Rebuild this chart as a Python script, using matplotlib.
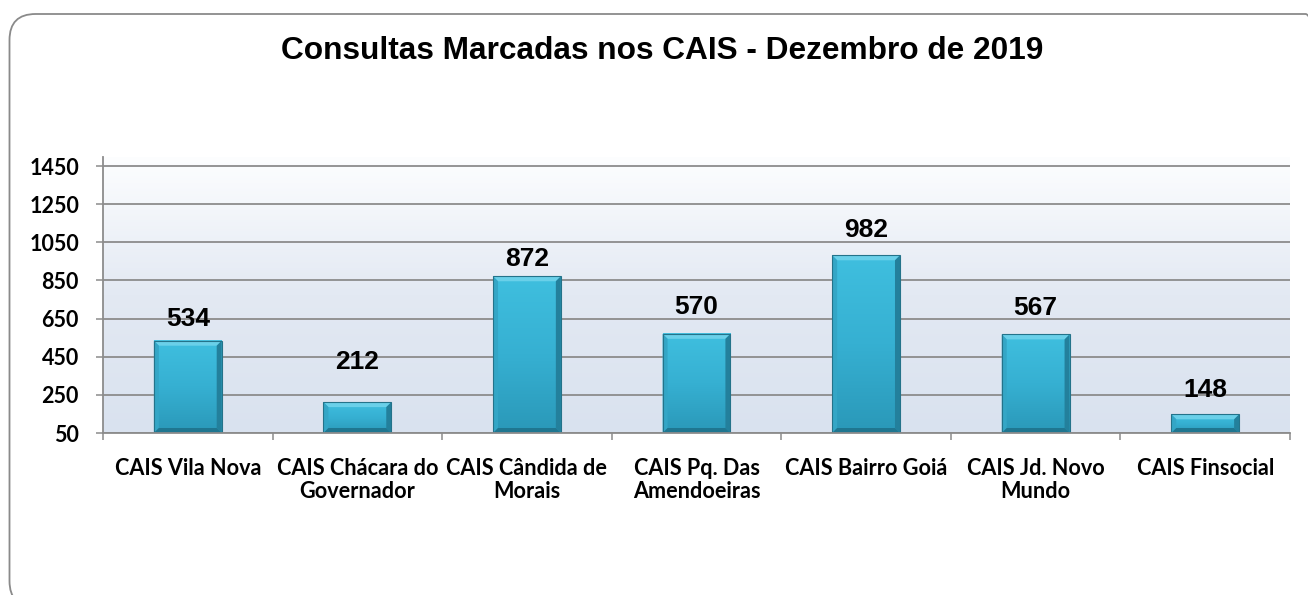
import numpy as np
import matplotlib
matplotlib.use("Agg")
import matplotlib.pyplot as plt
from matplotlib.patches import FancyBboxPatch, Polygon
from matplotlib.transforms import IdentityTransform
from matplotlib.colors import LinearSegmentedColormap

# ---------------- data ----------------
title = "Consultas Marcadas nos CAIS - Dezembro de 2019"
categories = ["CAIS Vila Nova", "CAIS Chácara do\nGovernador", "CAIS Cândida de\nMorais",
              "CAIS Pq. Das\nAmendoeiras", "CAIS Bairro Goiá", "CAIS Jd. Novo\nMundo",
              "CAIS Finsocial"]
values = [534, 212, 872, 570, 982, 567, 148]
y_ticks = [50, 250, 450, 650, 850, 1050, 1250, 1450]
y_limits = (50, 1500)
# extra vertical offset (in pixels) of each value label above its bar
label_offsets_px = [22, 40, 17, 27, 25, 26, 24]

W, H, DPI = 1308, 595, 100
fig = plt.figure(figsize=(W / DPI, H / DPI), dpi=DPI)
fig.patch.set_facecolor("white")

# outer rounded frame (extends past right/bottom edge like the reference)
frame = FancyBboxPatch((9.5, -12), 1322, 593,
                       boxstyle="round,pad=0,rounding_size=26",
                       transform=IdentityTransform(), facecolor="none",
                       edgecolor="#8a8a8a", linewidth=1.3, zorder=0)
fig.patches.append(frame)

fig.text(662 / W, 1 - 51 / H, title, ha="center", va="center",
         family="Liberation Sans", fontweight="bold", fontsize=22.8, color="black")

ax_left, ax_right, ax_top, ax_bottom = 103, 1290, 156.5, 433
ax = fig.add_axes([ax_left / W, 1 - ax_bottom / H, (ax_right - ax_left) / W,
                   (ax_bottom - ax_top) / H])
ax.set_facecolor("none")

# plot area gradient background
bg = LinearSegmentedColormap.from_list("bg", ["#d9e2ef", "#e3e9f3", "#fdfeff"])
grad = np.linspace(0, 1, 256).reshape(-1, 1)
ax.imshow(grad, cmap=bg, origin="lower", extent=[0, 1, 0, 1], transform=ax.transAxes,
          aspect="auto", zorder=0.1, interpolation="bicubic")

x = np.arange(len(categories))
bar_w = 0.4
ax.set_xlim(-0.5, len(categories) - 0.5)
ax.set_ylim(*y_limits)
ax.set_yticks(y_ticks)
ax.set_yticklabels([str(v) for v in y_ticks])
ax.set_xticks(np.arange(-0.5, len(categories), 1.0))
ax.set_xticklabels([])
ax.set_xticks(x, minor=True)
ax.set_xticklabels(categories, minor=True)

grid_c = "#8c8c8c"
ax.set_axisbelow(True)
ax.yaxis.grid(True, color=grid_c, linewidth=1.3, zorder=0.5)
for s in ["top", "right"]:
    ax.spines[s].set_visible(False)
for s in ["left", "bottom"]:
    ax.spines[s].set_color(grid_c)
    ax.spines[s].set_linewidth(1.3)
ax.tick_params(axis="y", which="major", length=7 * 72 / DPI, width=1.1, color=grid_c,
               pad=17 * 72 / DPI, labelsize=15.5)
ax.tick_params(axis="x", which="major", length=7 * 72 / DPI, width=1.1, color=grid_c)
ax.tick_params(axis="x", which="minor", length=0, pad=25 * 72 / DPI, labelsize=15.6)
for lab in ax.get_yticklabels():
    lab.set_fontfamily("Lato")
    lab.set_fontweight("bold")
for lab in ax.get_xticklabels(minor=True):
    lab.set_fontfamily("Lato")
    lab.set_fontweight("bold")
    lab.set_linespacing(1.1)

bars = ax.bar(x, values, width=bar_w, color="none", edgecolor="none", zorder=2)

fig.canvas.draw()
# pixel scale
px_per_x = ax.transData.transform((1, 0))[0] - ax.transData.transform((0, 0))[0]
px_per_y = ax.transData.transform((0, 1))[1] - ax.transData.transform((0, 0))[1]
bev = 5.0
dxb, dyb = bev / px_per_x, bev / px_per_y

face = LinearSegmentedColormap.from_list("face", ["#2a98b8", "#36b0d2", "#3fbfdf"])
ybase = y_limits[0]
for b, v in zip(bars, values):
    x0 = b.get_x()
    x1 = x0 + b.get_width()
    y0, y1 = ybase, v
    ax.imshow(grad, cmap=face, origin="lower", extent=[x0, x1, y0, y1],
              aspect="auto", zorder=2, interpolation="bicubic")
    # bevels
    top = Polygon([(x0, y1), (x1, y1), (x1 - dxb, y1 - dyb), (x0 + dxb, y1 - dyb)],
                  closed=True, facecolor="#6ad0e9", edgecolor="none", zorder=2.1)
    left = Polygon([(x0, y0), (x0, y1), (x0 + dxb, y1 - dyb), (x0 + dxb, y0 + dyb)],
                   closed=True, facecolor="#34a6c6", edgecolor="none", zorder=2.1)
    right = Polygon([(x1, y0), (x1, y1), (x1 - dxb, y1 - dyb), (x1 - dxb, y0 + dyb)],
                    closed=True, facecolor="#23809c", edgecolor="none", zorder=2.1)
    bot = Polygon([(x0, y0), (x1, y0), (x1 - dxb, y0 + dyb), (x0 + dxb, y0 + dyb)],
                  closed=True, facecolor="#1f7690", edgecolor="none", zorder=2.1)
    for p in (top, left, right, bot):
        ax.add_patch(p)
    ax.add_patch(plt.Rectangle((x0, y0), x1 - x0, y1 - y0, facecolor="none",
                               edgecolor="#24738a", linewidth=0.8, zorder=2.2))

for xi, v, off in zip(x, values, label_offsets_px):
    ax.annotate(str(v), (xi, v), xytext=(0, off * 72 / DPI), textcoords="offset points",
                ha="center", va="center", family="Liberation Sans", fontweight="bold",
                fontsize=19, color="black", zorder=3)

fig.savefig("out.png", dpi=DPI)
